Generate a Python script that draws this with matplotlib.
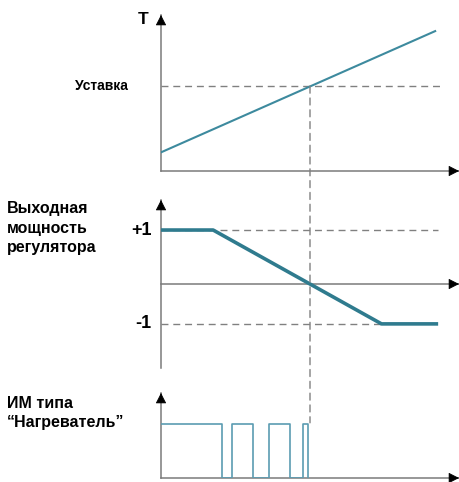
import numpy as np
import matplotlib
matplotlib.use("Agg")
import matplotlib.pyplot as plt
from matplotlib.patches import ConnectionPatch

# time axis (arbitrary units), setpoint is reached at t = 50
t_end = 100
t_cross = 50

# temperature ramp
temp_t = [0, 92]
temp_v = [22, 165]
setpoint = 100
setpoint_end = 95

# regulator output (proportional band)
power_t = [0, 17.5, 74, 93]
power_v = [1, 1, -1, -1]
power_levels = [1, -1]
power_labels = ["+1", "-1"]

# heater on/off pulses
pulse_t = [0, 20.5, 20.5, 23.8, 23.8, 30.9, 30.9, 36.2, 36.2, 43.3, 43.3, 47.7, 47.7, 49.3, 49.3]
pulse_v = [1, 1, 0, 0, 1, 1, 0, 0, 1, 1, 0, 0, 1, 1, 0]

W, H = 459, 482
AXIS = "#7a7a7a"
DASH = "#808080"
FONT = ["Liberation Sans Narrow", "Liberation Sans", "DejaVu Sans"]


def _frac(left, top, right, bottom):
    return [left / W, 1 - bottom / H, (right - left) / W, (bottom - top) / H]


def _axes(fig, rect, ylim, y0=0.0):
    ax = fig.add_axes(rect)
    ax.set_xlim(0, t_end)
    ax.set_ylim(*ylim)
    ax.axis("off")
    # gray axis lines with black arrow heads
    ax.plot([0, 0], [ylim[0], ylim[1]], color=AXIS, lw=1.1, clip_on=False)
    ax.plot([0, t_end], [y0, y0], color=AXIS, lw=1.1, clip_on=False)
    head = dict(arrowstyle="-|>,head_length=0.55,head_width=0.28", color="black",
                lw=0.5, mutation_scale=12, shrinkA=0, shrinkB=0)
    ax.annotate("", xy=(0, ylim[1]), xytext=(0, -6), textcoords="offset points",
                xycoords="data", arrowprops=head, annotation_clip=False)
    ax.annotate("", xy=(t_end, y0), xytext=(-6, 0), textcoords="offset points",
                arrowprops=head, annotation_clip=False)
    return ax


fig = plt.figure(figsize=(W / 100, H / 100), dpi=100)

# --- temperature ---
ax1 = _axes(fig, _frac(161, 15, 459, 171), (0, 184))
ax1.plot([0, setpoint_end], [setpoint, setpoint], color=DASH, lw=1.0, dashes=(5, 3.5))
ax1.plot(temp_t, temp_v, color="#3d8a9e", lw=1.5)
ax1.annotate("T", xy=(0, 184), xytext=(-13, -3), textcoords="offset points",
             ha="center", va="center", fontsize=12.5, fontweight="bold", family=FONT)
ax1.annotate("Уставка", xy=(0, setpoint), xytext=(-24, 0), textcoords="offset points",
             ha="right", va="center", fontsize=10, fontweight="bold", family=FONT)

# --- regulator output ---
zero_line = float(np.interp(t_cross, power_t, power_v))
ax2 = _axes(fig, _frac(161, 200, 459, 368), (-1.94, 1.64), y0=zero_line)
for lvl, lab in zip(power_levels, power_labels):
    end = power_t[-1] if lvl > 0 else power_t[2]
    ax2.plot([0, end], [lvl, lvl], color=DASH, lw=1.0, dashes=(5, 3.5))
    ax2.annotate(lab, xy=(0, lvl), xytext=(-7, 0), textcoords="offset points",
                 ha="right", va="center", fontsize=13, fontweight="bold", family=FONT)
ax2.plot(power_t, power_v, color="#2f7b8e", lw=2.6, solid_capstyle="butt")

# --- heater ---
ax3 = _axes(fig, _frac(161, 393, 459, 478), (0, 1.57))
ax3.plot(pulse_t, pulse_v, color="#5b9cb2", lw=1.2)

# vertical dashed line at the setpoint crossing
con = ConnectionPatch(xyA=(t_cross, setpoint), coordsA=ax1.transData,
                      xyB=(t_cross, 1.02), coordsB=ax3.transData,
                      color=DASH, lw=1.0, linestyle=(0, (5, 3.5)))
fig.add_artist(con)

# left labels
lbl = dict(fontsize=11.5, fontweight="bold", family=FONT, ha="left", va="center")
fig.text(7 / W, 1 - 209 / H, "Выходная", **lbl)
fig.text(7 / W, 1 - 229 / H, "мощность", **lbl)
fig.text(7 / W, 1 - 248 / H, "регулятора", **lbl)
fig.text(7 / W, 1 - 403 / H, "ИМ типа", **lbl)
fig.text(7 / W, 1 - 423 / H, "“Нагреватель”", **lbl)

fig.savefig("out.png", dpi=100)
